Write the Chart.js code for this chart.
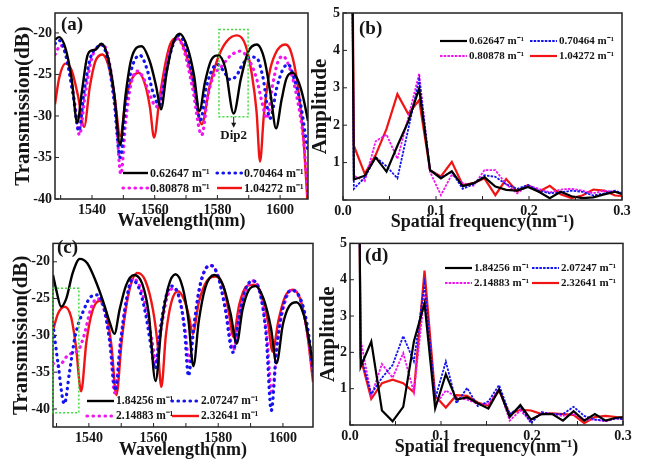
<!DOCTYPE html>
<html>
<head>
<meta charset="utf-8">
<script src="https://cdn.jsdelivr.net/npm/chart.js@4.4.0/dist/chart.umd.min.js"></script>
<style>
  body { margin: 0; background: #fff; }
  #wrap { position: relative; width: 647px; height: 459px; overflow: hidden; background: #fff; }
  canvas { position: absolute; }
</style>
</head>
<body>
<div id="wrap">
  <canvas id="chartA" width="312" height="232" style="left:0px;top:0px"></canvas>
  <canvas id="chartB" width="337" height="232" style="left:310px;top:0px"></canvas>
  <canvas id="chartC" width="316" height="227" style="left:0px;top:232px"></canvas>
  <canvas id="chartD" width="337" height="227" style="left:310px;top:232px"></canvas>
</div>
<script>
// legend labels (curvature)
const labelsLow = ['0.62647 m⁻¹', '0.70464 m⁻¹', '0.80878 m⁻¹', '1.04272 m⁻¹'];
const labelsHigh = ['1.84256 m⁻¹', '2.07247 m⁻¹', '2.14883 m⁻¹', '2.32641 m⁻¹'];

// (a) transmission spectra, wavelength (nm) / transmission (dB)
const wlA1 = [1528.2, 1529.5, 1531.5, 1533.5, 1535.3, 1536.8, 1538.5, 1540, 1541.2, 1543, 1545, 1547, 1549, 1550.7, 1552.5, 1555.8, 1558.5, 1560.5, 1562, 1563.8, 1565.8, 1568, 1570.5, 1572.5, 1574.3, 1576, 1578, 1580.3, 1582.5, 1585.2, 1587.5, 1589.8, 1592.6, 1595, 1597, 1598.7, 1600.5, 1602, 1604, 1606, 1607.5, 1608.9];
const dbA1 = [-20.8, -20.5, -21.8, -25.5, -30.8, -27, -22.8, -22.1, -22.0, -21.3, -22.8, -27, -33.5, -27.5, -23.2, -21.6, -23.5, -26.5, -29.2, -24.8, -21.3, -20.1, -21.8, -25, -29.4, -26, -23.3, -22.7, -24.2, -29.7, -25.5, -22.3, -21.4, -23.2, -27.5, -31.5, -28, -25.5, -24.8, -26, -28, -30.6];
const wlA2 = [1528.2, 1529.5, 1531.5, 1534, 1535.8, 1537.5, 1539.5, 1541.5, 1543, 1545, 1547, 1549, 1550.8, 1552.5, 1555.3, 1557.5, 1559.5, 1561.5, 1563.5, 1565.5, 1567.7, 1570, 1572.5, 1574.6, 1576.5, 1578.5, 1580, 1582, 1584, 1586, 1588, 1590.5, 1592.5, 1594.5, 1596.8, 1599, 1601, 1602.6, 1604.5, 1606.5, 1608.9];
const dbA2 = [-21.3, -20.9, -22.5, -27.5, -31.8, -27, -23, -21.8, -21.4, -23.2, -28, -35, -28.5, -24.5, -22.7, -24.3, -27.2, -28.7, -25, -21.8, -20.3, -21.8, -26, -30.5, -26.5, -24.3, -23.8, -24.6, -25.6, -25.2, -23.8, -22.9, -23, -25.3, -30.3, -26.5, -24.3, -23.8, -25.5, -28.5, -34.5];
const wlA3 = [1528.2, 1530, 1532, 1534.5, 1536, 1537.8, 1539.8, 1542, 1543.5, 1545.5, 1547.5, 1549.2, 1550.8, 1552.5, 1554.5, 1556.5, 1558.5, 1560.5, 1562.5, 1565, 1567.4, 1569.5, 1572, 1575, 1577, 1579, 1581, 1584, 1587.3, 1590, 1592.5, 1594.3, 1595.8, 1597.5, 1599.2, 1600.9, 1603, 1605.5, 1607.5, 1608.9];
const dbA3 = [-22.6, -21.5, -23, -28.5, -32.3, -27.5, -23.2, -21.6, -21.4, -23.5, -29, -37, -30.5, -26, -24.6, -25.5, -27.5, -28.9, -26.5, -22, -20.7, -22.3, -26.5, -32.3, -27.5, -25, -24.2, -22.8, -22.2, -23.2, -25.5, -28.5, -30.3, -26.5, -23.6, -22.8, -24.2, -28, -33, -39.8];
const wlA4 = [1528.2, 1529.5, 1531.5, 1533.5, 1535.5, 1537.5, 1539.3, 1541, 1543.3, 1545.3, 1547.3, 1549, 1550.8, 1552.8, 1554.9, 1557, 1558.5, 1559.8, 1561.5, 1563.5, 1565, 1567, 1569.5, 1572, 1575, 1577.5, 1580.3, 1583, 1586.3, 1589, 1591, 1592.5, 1593.6, 1594.8, 1596.5, 1598.5, 1601.7, 1603.5, 1605.5, 1607.5, 1608.7];
const dbA4 = [-28.6, -25.5, -23.7, -24.5, -27.5, -31.3, -26.5, -23.5, -22.6, -24, -28, -32.4, -28, -25.5, -24.8, -26.3, -29, -32.6, -28, -23.5, -21.3, -20.6, -22, -25.5, -31, -26.5, -22.9, -21, -20.3, -21.5, -25, -29.5, -35.5, -30, -25, -22.5, -21.4, -22.3, -26, -33, -40.1];

// (c) transmission spectra
const wlC1 = [1528.9, 1530, 1531.4, 1533, 1535, 1537.2, 1539.5, 1542, 1544.5, 1546.5, 1547.9, 1549.5, 1551.5, 1554, 1556.5, 1558.5, 1560.6, 1562.5, 1564.5, 1566.8, 1569, 1570.8, 1572.3, 1574, 1576, 1578.8, 1581.5, 1583.8, 1585.7, 1587.5, 1589.5, 1591.6, 1594, 1596.3, 1598, 1600, 1602, 1604.2, 1606.5, 1608, 1609.3];
const dbC1 = [-21.8, -24, -26.1, -25, -21.5, -19.6, -20.2, -22.5, -25.5, -28.3, -29.8, -26.5, -23.2, -21.8, -23, -27, -36.2, -28.5, -23.5, -21.7, -23.5, -28, -34.2, -28, -23.5, -21.8, -23.2, -27, -31.1, -26.5, -23.8, -23.3, -25, -29, -33.8, -28.5, -26, -25.5, -27.3, -30.5, -34];
const wlC2 = [1528.9, 1530.5, 1532.4, 1534, 1535.8, 1538, 1540.5, 1542.5, 1544.5, 1546.5, 1548.2, 1549.8, 1551.5, 1553.3, 1555.5, 1557.5, 1559.2, 1560.5, 1561.8, 1563.8, 1565.8, 1568, 1569.5, 1570.8, 1572.3, 1574, 1575.8, 1577.7, 1579.8, 1582, 1584.5, 1586.2, 1588.2, 1590.6, 1592.8, 1594.8, 1596.4, 1598, 1599.8, 1602.5, 1604.5, 1606.5, 1608, 1609.3];
const dbC2 = [-28.5, -34, -39.3, -35, -30, -27, -24.8, -24.5, -26, -31, -37.5, -31, -25.5, -22.5, -23.6, -27, -31.5, -34.5, -30, -24.8, -23.3, -25, -29, -35.5, -29.5, -24, -21.2, -20.5, -21.8, -26, -32.3, -28.2, -24, -22.6, -24, -30, -40.2, -32, -26.5, -23.9, -24.3, -26.5, -30, -35];
const wlC3 = [1528.9, 1530.5, 1533.5, 1537, 1538.7, 1540.5, 1542.5, 1544.5, 1546.5, 1548, 1549.7, 1551.5, 1553.7, 1556, 1558, 1559.6, 1560.8, 1562.2, 1564.2, 1566.2, 1568.3, 1569.8, 1571, 1572.5, 1574.3, 1576, 1577.8, 1580, 1582.3, 1584.7, 1586.5, 1588.5, 1590.8, 1593, 1595, 1596.6, 1598.3, 1600, 1602.7, 1604.7, 1606.5, 1608, 1609.3];
const dbC3 = [-33.8, -34.2, -32.7, -31.8, -29.7, -26.5, -25, -26.2, -31, -37.8, -31, -25.5, -22.3, -23.6, -27, -31, -33.8, -29.5, -24.8, -23.6, -25.5, -29.5, -33.5, -28.5, -23.5, -21, -20.5, -22, -26.5, -32, -27.5, -24, -22.6, -24.3, -30, -38, -31, -26.5, -23.8, -24.5, -27, -31, -35.5];
const wlC4 = [1528.9, 1530.5, 1532.5, 1534.5, 1536, 1537.6, 1539.2, 1541, 1543.3, 1545.3, 1547, 1548.5, 1550.2, 1552.2, 1555, 1557.5, 1559.8, 1561.2, 1562.4, 1563.8, 1565.5, 1567.5, 1569.5, 1571, 1572.1, 1574, 1576.5, 1579.3, 1581.7, 1583.3, 1584.6, 1586.5, 1588.8, 1591.2, 1593.3, 1595.3, 1596.8, 1598.6, 1600.6, 1603.1, 1605.3, 1607.3, 1609.3];
const dbC4 = [-29.3, -27, -26.1, -27.5, -31.5, -37.6, -31, -26.8, -25.3, -26.8, -31.5, -38.1, -30.5, -24.5, -21.5, -22.6, -26.5, -31, -37, -30, -25.5, -24, -25.2, -27.5, -29.8, -25.5, -22.6, -22, -23.5, -27, -30.2, -25.8, -23.3, -23.1, -24.5, -28, -32.2, -28, -24.8, -23.8, -25, -29, -36.3];

// (b), (d) FFT spectra: spatial frequency (nm^-1) / amplitude
const spatialFreq = [0, 0.0117, 0.0234, 0.0351, 0.0468, 0.0585, 0.0702, 0.0819, 0.0936, 0.1053, 0.117, 0.1287, 0.1404, 0.1521, 0.1638, 0.1755, 0.1872, 0.1989, 0.2106, 0.2223, 0.234, 0.2457, 0.2574, 0.2691, 0.2808, 0.2925, 0.3042];
const ampB1 = [40, 0.55, 0.65, 1.14, 0.76, 1.45, 2.1, 2.98, 0.8, 0.58, 0.77, 0.37, 0.45, 0.61, 0.36, 0.27, 0.25, 0.35, 0.22, 0.05, 0.22, 0.1, 0.05, 0.07, 0.15, 0.22, 0.12];
const ampB2 = [40, 0.3, 0.6, 1.15, 0.9, 0.58, 1.9, 3.22, 0.8, 0.6, 0.75, 0.3, 0.42, 0.66, 0.62, 0.42, 0.3, 0.4, 0.25, 0.18, 0.2, 0.25, 0.22, 0.12, 0.18, 0.25, 0.15];
const ampB3 = [40, 0.65, 0.5, 1.57, 1.75, 1.1, 2.2, 3.38, 0.75, 0.13, 0.68, 0.45, 0.38, 0.8, 0.8, 0.42, 0.18, 0.38, 0.3, 0.2, 0.28, 0.3, 0.25, 0.18, 0.25, 0.22, 0.15];
const ampB4 = [40, 1.45, 0.7, 1.2, 1.9, 2.83, 2.3, 2.67, 0.8, 0.63, 1.02, 0.4, 0.45, 0.58, 0.13, 0.56, 0.23, 0.4, 0.22, 0.38, 0.15, 0.05, 0.12, 0.28, 0.25, 0.12, 0.1];
const ampD1 = [40, 1.6, 2.3, 0.4, 0.1, 0.5, 2.3, 3.35, 0.46, 1.4, 0.7, 0.76, 0.6, 0.45, 0.98, 0.22, 0.55, 0.15, 0.3, 0.3, 0.12, 0.38, 0.12, 0.3, 0.12, 0.2, 0.22];
const ampD2 = [40, 1.9, 0.85, 1.3, 1.65, 2.45, 1.75, 3.88, 0.72, 1.75, 0.6, 1.02, 0.52, 0.65, 1.1, 0.3, 0.5, 0.05, 0.35, 0.3, 0.3, 0.5, 0.25, 0.15, 0.12, 0.18, 0.15];
const ampD3 = [40, 2.35, 0.8, 1.68, 1.3, 1.98, 0.9, 3.6, 0.55, 0.95, 0.76, 0.7, 0.58, 0.58, 1.0, 0.12, 0.4, 0.1, 0.35, 0.3, 0.25, 0.3, 0.15, 0.15, 0.1, 0.18, 0.15];
const ampD4 = [40, 1.85, 0.72, 1.15, 1.25, 1.15, 0.9, 4.25, 0.8, 0.48, 0.82, 0.8, 0.62, 0.53, 0.95, 0.3, 0.42, 0.4, 0.3, 0.32, 0.3, 0.28, 0.05, 0.22, 0.25, 0.22, 0.2];

const serif = '"Liberation Serif", "Times New Roman", serif';
const ink = '#151515';

const spectrumStyles = [
  { borderColor: '#000000', borderWidth: 2.4 },
  { borderColor: '#1414f0', borderWidth: 3.2, borderDash: [0.5, 5.5], borderCapStyle: 'round' },
  { borderColor: '#f014f0', borderWidth: 3.2, borderDash: [0.5, 5.5], borderCapStyle: 'round' },
  { borderColor: '#f01414', borderWidth: 2.4 }
];
const fftStyles = [
  { borderColor: '#000000', borderWidth: 2.2 },
  { borderColor: '#1414f0', borderWidth: 1.8, borderDash: [2.5, 1.2] },
  { borderColor: '#f014f0', borderWidth: 1.8, borderDash: [2.5, 1.2] },
  { borderColor: '#f01414', borderWidth: 2.2 }
];

const pts = (xs, ys) => xs.map((x, i) => ({ x, y: ys[i] }));

// frame, inward ticks, panel tag, in-plot legend, green box + arrow
const panelDeco = {
  id: 'panelDeco',
  afterDatasetsDraw(chart, args, o) {
    const { ctx, chartArea: a } = chart;
    const sx = chart.scales.x, sy = chart.scales.y;
    ctx.save();
    ctx.setLineDash([]);
    ctx.strokeStyle = '#222';
    ctx.lineWidth = 1.5;
    ctx.strokeRect(a.left, a.top, a.right - a.left, a.bottom - a.top);
    ctx.lineWidth = 1;
    ctx.beginPath();
    sx.ticks.forEach(t => {
      const p = sx.getPixelForValue(t.value);
      ctx.moveTo(p, a.bottom); ctx.lineTo(p, a.bottom - 4);
    });
    sy.ticks.forEach(t => {
      const p = sy.getPixelForValue(t.value);
      ctx.moveTo(a.left, p); ctx.lineTo(a.left + 4, p);
    });
    ctx.stroke();

    if (o.box) {
      const b = o.box;
      const x0 = sx.getPixelForValue(b.x0), x1 = sx.getPixelForValue(b.x1);
      const y0 = sy.getPixelForValue(b.y0), y1 = sy.getPixelForValue(b.y1);
      ctx.strokeStyle = '#3ddc3d';
      ctx.lineWidth = 1.5;
      ctx.setLineDash([2, 2]);
      ctx.strokeRect(x0, y0, x1 - x0, y1 - y0);
      ctx.setLineDash([]);
    }
    ctx.fillStyle = ink;
    if (o.mark) {
      const px = sx.getPixelForValue(o.mark.x), py = sy.getPixelForValue(o.mark.y);
      ctx.strokeStyle = '#222';
      ctx.lineWidth = 1;
      ctx.beginPath(); ctx.moveTo(px, py); ctx.lineTo(px, py + 8); ctx.stroke();
      ctx.beginPath(); ctx.moveTo(px - 2.5, py + 6); ctx.lineTo(px + 2.5, py + 6); ctx.lineTo(px, py + 11); ctx.closePath(); ctx.fill();
      ctx.font = `bold 13px ${serif}`;
      ctx.textAlign = 'center';
      ctx.textBaseline = 'middle';
      ctx.fillText(o.mark.text, px, py + 19);
    }

    const lg = o.legend;
    ctx.textAlign = 'left';
    ctx.textBaseline = 'middle';
    ctx.font = `bold ${lg.size}px ${serif}`;
    chart.data.datasets.forEach((ds, i) => {
      const x = lg.cols[i % 2], y = lg.rows[Math.floor(i / 2)];
      ctx.strokeStyle = ds.borderColor;
      ctx.lineWidth = ds.borderWidth;
      ctx.lineCap = ds.borderCapStyle || 'butt';
      ctx.setLineDash(ds.borderDash || []);
      ctx.beginPath(); ctx.moveTo(x, y); ctx.lineTo(x + lg.len, y); ctx.stroke();
      ctx.setLineDash([]);
      ctx.fillText(ds.label, x + lg.len + 2, y + 0.5);
    });

    ctx.font = `bold 19px ${serif}`;
    ctx.fillText(o.tag, o.tagPos[0], o.tagPos[1]);
    ctx.restore();
  }
};

function buildOptions(p) {
  const tickFont = { family: serif, size: 14, weight: 'bold' };
  return {
    responsive: false,
    animation: false,
    events: [],
    layout: { padding: p.pad },
    elements: { point: { radius: 0 } },
    plugins: { legend: { display: false }, tooltip: { enabled: false }, panelDeco: p.deco },
    scales: {
      x: {
        type: 'linear', min: p.xMin, max: p.xMax,
        grid: { display: false, drawTicks: false }, border: { display: false },
        ticks: { stepSize: p.xStep, includeBounds: false, autoSkip: false, maxRotation: 0, padding: 3, color: ink, font: tickFont, callback: p.xLabel },
        title: { display: true, text: p.xTitle, color: ink, font: { family: serif, size: 18, weight: 'bold', lineHeight: 1 }, padding: { top: 0, bottom: p.xTitlePad } },
        afterFit: s => { s.height = p.xHeight; }
      },
      y: {
        type: 'linear', min: p.yMin, max: p.yMax,
        grid: { display: false, drawTicks: false }, border: { display: false },
        ticks: { stepSize: p.yStep, includeBounds: false, padding: 3, color: ink, font: tickFont, callback: p.yLabel },
        title: { display: true, text: p.yTitle, color: ink, font: { family: serif, size: 21, weight: 'bold', lineHeight: 1 }, padding: { top: p.yTitlePad, bottom: 0 } },
        afterFit: s => { s.width = p.yWidth; }
      }
    }
  };
}

const nmLabel = v => (v % 20 === 0 ? v : '');
const freqLabel = v => (Math.round(v * 100) % 10 === 0 ? v.toFixed(1) : '');
const ampLabel = v => (v === 0 ? '' : v);

function spectrumData(series, labels) {
  return {
    datasets: series.map((s, i) => ({
      label: labels[i], data: pts(s[0], s[1]),
      cubicInterpolationMode: 'monotone', ...spectrumStyles[i]
    }))
  };
}
function fftData(series, labels) {
  return {
    datasets: series.map((s, i) => ({
      label: labels[i], data: pts(spatialFreq, s),
      tension: 0, ...fftStyles[i]
    }))
  };
}

new Chart(document.getElementById('chartA'), {
  type: 'line',
  data: spectrumData([[wlA1, dbA1], [wlA2, dbA2], [wlA3, dbA3], [wlA4, dbA4]], labelsLow),
  options: buildOptions({
    xMin: 1528.2, xMax: 1608.9, xStep: 10, yMin: -40, yMax: -17.6, yStep: 5,
    xLabel: nmLabel, xTitle: 'Wavelength(nm)', yTitle: 'Transmission(dB)',
    yWidth: 55, xHeight: 33, pad: { top: 13, right: 4, left: 0, bottom: 0 }, yTitlePad: 13, xTitlePad: 2,
    deco: {
      tag: '(a)', tagPos: [61, 25],
      legend: { cols: [123, 217], rows: [173, 188], len: 25, size: 12 },
      box: { x0: 1580.5, x1: 1589.8, y0: -19.6, y1: -30.1 },
      mark: { x: 1585.2, y: -30.1, text: 'Dip2' }
    }
  }),
  plugins: [panelDeco]
});

new Chart(document.getElementById('chartB'), {
  type: 'line',
  data: fftData([ampB1, ampB2, ampB3, ampB4], labelsLow),
  options: buildOptions({
    xMin: 0, xMax: 0.3, xStep: 0.05, yMin: 0, yMax: 5, yStep: 1,
    xLabel: freqLabel, yLabel: ampLabel, xTitle: 'Spatial frequency(nm⁻¹)', yTitle: 'Amplitude',
    yWidth: 33, xHeight: 32, pad: { top: 13, right: 25, left: 0, bottom: 0 }, yTitlePad: 0, xTitlePad: 1,
    deco: {
      tag: '(b)', tagPos: [49, 29],
      legend: { cols: [130, 220], rows: [41, 56], len: 27, size: 11 }
    }
  }),
  plugins: [panelDeco]
});

new Chart(document.getElementById('chartC'), {
  type: 'line',
  data: spectrumData([[wlC1, dbC1], [wlC2, dbC2], [wlC3, dbC3], [wlC4, dbC4]], labelsHigh),
  options: buildOptions({
    xMin: 1528.9, xMax: 1609.3, xStep: 10, yMin: -42.45, yMax: -17.5, yStep: 5,
    xLabel: nmLabel, xTitle: 'Wavelength(nm)', yTitle: 'Transmission(dB)',
    yWidth: 53, xHeight: 32, pad: { top: 3, right: 3, left: 0, bottom: 0 }, yTitlePad: 11, xTitlePad: 0,
    deco: {
      tag: '(c)', tagPos: [57, 16],
      legend: { cols: [87, 172], rows: [169, 184], len: 27, size: 11.5 },
      box: { x0: 1528.9, x1: 1536.9, y0: -23.6, y1: -40.5 }
    }
  }),
  plugins: [panelDeco]
});

new Chart(document.getElementById('chartD'), {
  type: 'line',
  data: fftData([ampD1, ampD2, ampD3, ampD4], labelsHigh),
  options: buildOptions({
    xMin: 0, xMax: 0.3, xStep: 0.05, yMin: 0, yMax: 5, yStep: 1,
    xLabel: freqLabel, yLabel: ampLabel, xTitle: 'Spatial frequency(nm⁻¹)', yTitle: 'Amplitude',
    yWidth: 40, xHeight: 34, pad: { top: 8, right: 24, left: 0, bottom: 0 }, yTitlePad: 8, xTitlePad: 3,
    deco: {
      tag: '(d)', tagPos: [55, 24],
      legend: { cols: [135, 222], rows: [36, 51], len: 27, size: 11 }
    }
  }),
  plugins: [panelDeco]
});
</script>
</body>
</html>
